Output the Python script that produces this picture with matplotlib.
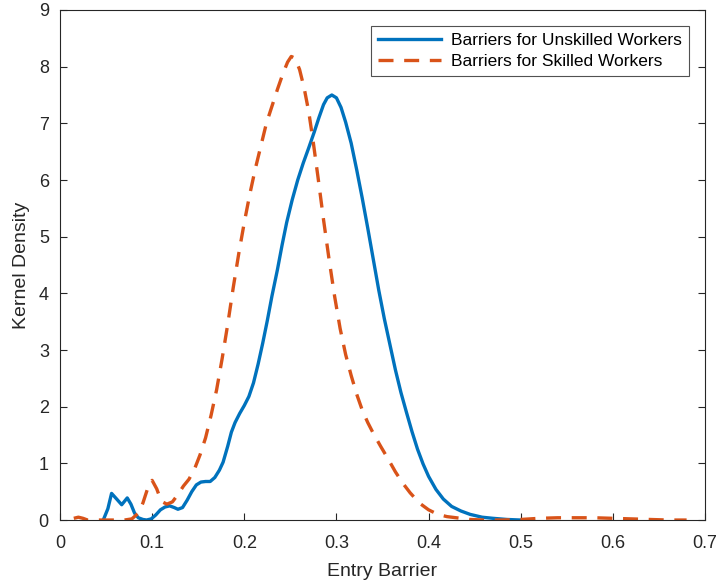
import matplotlib
matplotlib.use("Agg")
import matplotlib.pyplot as plt

plt.rcParams['font.family'] = ['Liberation Sans', 'DejaVu Sans']

# Unskilled workers (solid blue)
x_unskilled = [0.047, 0.052, 0.056, 0.061, 0.067, 0.070, 0.073, 0.077, 0.081, 0.085,
               0.090, 0.094, 0.099, 0.104, 0.109, 0.114, 0.119, 0.124, 0.128, 0.133,
               0.138, 0.143, 0.148, 0.153, 0.158, 0.163, 0.168, 0.173, 0.177, 0.182,
               0.186, 0.190, 0.195, 0.200, 0.205, 0.210, 0.215, 0.220, 0.225, 0.230,
               0.236, 0.241, 0.246, 0.252, 0.258, 0.264, 0.270, 0.276, 0.281, 0.286,
               0.290, 0.295, 0.300, 0.305, 0.310, 0.316, 0.322, 0.328, 0.334, 0.340,
               0.346, 0.352, 0.358, 0.364, 0.370, 0.376, 0.382, 0.388, 0.394, 0.400,
               0.408, 0.416, 0.425, 0.435, 0.445, 0.458, 0.470, 0.485, 0.500, 0.512]
y_unskilled = [0.0, 0.2, 0.47, 0.38, 0.27, 0.33, 0.39, 0.28, 0.12, 0.04,
               0.01, 0.0, 0.02, 0.09, 0.18, 0.23, 0.25, 0.22, 0.19, 0.22,
               0.35, 0.50, 0.62, 0.67, 0.68, 0.68, 0.75, 0.88, 1.02, 1.30,
               1.55, 1.72, 1.88, 2.02, 2.18, 2.42, 2.75, 3.12, 3.52, 3.95,
               4.42, 4.85, 5.25, 5.65, 6.0, 6.3, 6.57, 6.85, 7.1, 7.33,
               7.45, 7.5, 7.45, 7.28, 7.02, 6.65, 6.18, 5.68, 5.15, 4.6,
               4.05, 3.55, 3.1, 2.65, 2.25, 1.9, 1.56, 1.25, 0.99, 0.77,
               0.54, 0.37, 0.24, 0.16, 0.10, 0.05, 0.03, 0.01, 0.0, 0.0]

# Skilled workers (dashed orange)
x_skilled = [0.015, 0.020, 0.025, 0.030, 0.040, 0.050, 0.060, 0.070, 0.078, 0.085,
             0.090, 0.095, 0.100, 0.105, 0.110, 0.116, 0.122, 0.128, 0.134, 0.140,
             0.146, 0.152, 0.158, 0.164, 0.170, 0.176, 0.182, 0.188, 0.194, 0.200,
             0.206, 0.212, 0.218, 0.224, 0.230, 0.236, 0.242, 0.247, 0.251, 0.255,
             0.260, 0.265, 0.270, 0.275, 0.280, 0.286, 0.292, 0.298, 0.304, 0.310,
             0.316, 0.322, 0.328, 0.334, 0.340, 0.348, 0.356, 0.364, 0.372, 0.380,
             0.390, 0.400, 0.410, 0.420, 0.430, 0.445, 0.460, 0.480, 0.500, 0.520,
             0.540, 0.560, 0.580, 0.600, 0.620, 0.640, 0.660, 0.680]
y_skilled = [0.03, 0.05, 0.03, 0.0, 0.0, 0.0, 0.0, 0.0, 0.02, 0.12,
             0.3, 0.55, 0.7, 0.55, 0.33, 0.28, 0.32, 0.45, 0.6, 0.72,
             0.9, 1.15, 1.45, 1.85, 2.3, 2.85, 3.45, 4.1, 4.7, 5.25,
             5.75, 6.2, 6.6, 7.0, 7.3, 7.6, 7.88, 8.08, 8.18, 8.15,
             7.95, 7.62, 7.2, 6.65, 6.05, 5.3, 4.6, 3.95, 3.38, 2.92,
             2.55, 2.22, 1.94, 1.72, 1.53, 1.3, 1.08, 0.85, 0.65, 0.48,
             0.3, 0.18, 0.10, 0.06, 0.04, 0.01, 0.0, 0.0, 0.01, 0.03,
             0.04, 0.04, 0.04, 0.03, 0.02, 0.01, 0.0, 0.0]

x_ticks = [0, 0.1, 0.2, 0.3, 0.4, 0.5, 0.6, 0.7]
y_ticks = [0, 1, 2, 3, 4, 5, 6, 7, 8, 9]

fig = plt.figure(figsize=(7.19, 5.88), dpi=100)
ax = fig.add_axes([0.0834, 0.1156, 0.8972, 0.8674])

ax.plot(x_unskilled, y_unskilled, color='#0072BD', lw=2.4,
        label='Barriers for Unskilled Workers', solid_joinstyle='round')
ax.plot(x_skilled, y_skilled, color='#D95319', lw=2.4, dashes=(4.5, 3.2),
        label='Barriers for Skilled Workers')

ax.set_xlim(0, 0.7)
ax.set_ylim(0, 9)
ax.set_xticks(x_ticks)
ax.set_xticklabels([f'{v:g}' for v in x_ticks])
ax.set_yticks(y_ticks)

for s in ax.spines.values():
    s.set_color('#262626')
    s.set_linewidth(0.8)
ax.tick_params(direction='in', length=5, width=0.8, colors='#262626',
               labelsize=13, top=True, right=True)
ax.tick_params(axis='x', top=False, pad=11)
ax.tick_params(axis='y', pad=8)
ax.set_xlabel('Entry Barrier', fontsize=14, color='#262626', labelpad=8)
ax.set_ylabel('Kernel Density', fontsize=14, color='#262626', labelpad=6)

leg = ax.legend(loc='upper right', bbox_to_anchor=(0.975, 0.968), fontsize=12.5,
                frameon=True, fancybox=False, edgecolor='#262626',
                handlelength=3.6, borderpad=0.4, labelspacing=0.3,
                handletextpad=0.6, borderaxespad=0.0)
leg.get_frame().set_linewidth(0.8)

fig.savefig('out.png', dpi=100)
